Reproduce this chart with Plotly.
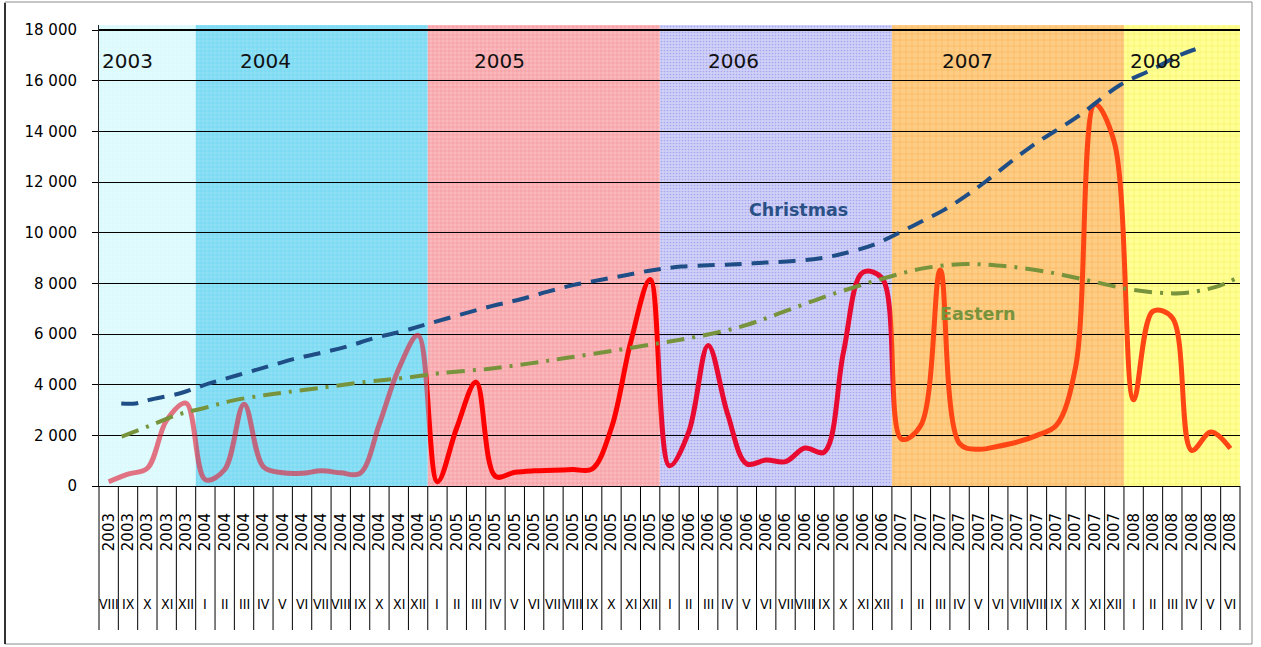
import plotly.graph_objects as go

# ---------------------------------------------------------------- data
month_year = [
    "2003", "2003", "2003", "2003", "2003",
    "2004", "2004", "2004", "2004", "2004", "2004", "2004", "2004", "2004", "2004", "2004", "2004",
    "2005", "2005", "2005", "2005", "2005", "2005", "2005", "2005", "2005", "2005", "2005", "2005",
    "2006", "2006", "2006", "2006", "2006", "2006", "2006", "2006", "2006", "2006", "2006", "2006",
    "2007", "2007", "2007", "2007", "2007", "2007", "2007", "2007", "2007", "2007", "2007", "2007",
    "2008", "2008", "2008", "2008", "2008", "2008",
]
month_roman = [
    "VIII", "IX", "X", "XI", "XII",
    "I", "II", "III", "IV", "V", "VI", "VII", "VIII", "IX", "X", "XI", "XII",
    "I", "II", "III", "IV", "V", "VI", "VII", "VIII", "IX", "X", "XI", "XII",
    "I", "II", "III", "IV", "V", "VI", "VII", "VIII", "IX", "X", "XI", "XII",
    "I", "II", "III", "IV", "V", "VI", "VII", "VIII", "IX", "X", "XI", "XII",
    "I", "II", "III", "IV", "V", "VI",
]
sales = [
    170, 470, 700, 2600, 3270,
    250, 650, 3230, 760, 520, 500, 600, 520, 500, 2450, 4630, 5950,
    170, 2300, 4100, 380, 540, 600, 620, 650, 670, 2300, 5700, 8150,
    800, 2150, 5550, 2850, 870, 1030, 960, 1500, 1340, 5300, 8430, 8200,
    1850, 2400, 8530, 1670, 1450, 1570, 1740, 2000, 2390, 4700, 15070, 13570,
    3400, 6900, 6640, 1410, 2130, 1480,
]

# trend curves (position on the month axis, value)
christmas_pos = [0.65, 1.4, 2.1, 3.7, 5.2, 6.7, 8.2, 9.5, 10.9, 12.3, 13.7, 15.1, 16.6,
                 19.8, 21.3, 22.7, 24.0, 25.4, 26.8, 28.2, 29.6, 31.3, 32.7, 34.0, 35.4,
                 36.8, 38.0, 39.5, 40.8, 42.0, 43.2, 44.4, 45.4, 47.7, 50.1, 52.3, 53.9,
                 55.4, 56.2]
christmas_val = [3260, 3260, 3400, 3660, 4050, 4380, 4710, 5000, 5240, 5500, 5830, 6090, 6420,
                 7100, 7370, 7670, 7930, 8130, 8330, 8530, 8660, 8720, 8760, 8820, 8880,
                 8990, 9180, 9510, 9970, 10430, 10900, 11490, 12050, 13400, 14580, 15830, 16420,
                 17010, 17240]
eastern_pos = [0.67, 2.1, 3.5, 4.9, 6.4, 8.5, 10.8, 13.4, 15.1, 17.1, 19.6, 21.8, 23.7,
               26.1, 28.4, 30.4, 32.7, 34.7, 36.8, 38.9, 40.1, 42.1, 44.4, 46.6, 48.9,
               50.9, 53.0, 55.4, 57.3, 58.45]
eastern_val = [1950, 2370, 2800, 3070, 3370, 3630, 3860, 4120, 4250, 4450, 4620, 4840, 5060,
               5340, 5630, 5890, 6290, 6820, 7410, 7930, 8200, 8590, 8760, 8660, 8400,
               8070, 7740, 7610, 7870, 8260]

seasons = ["2003", "2004", "2005", "2006", "2007", "2008"]
season_len = [5, 12, 12, 12, 12, 6]

y_ticks = [0, 2000, 4000, 6000, 8000, 10000, 12000, 14000, 16000, 18000]
y_tick_text = ["0", "2 000", "4 000", "6 000", "8 000", "10 000", "12 000", "14 000", "16 000", "18 000"]

# ---------------------------------------------------------------- styling
season_fill = ["#e2fcfd", "#8fe0f5", "#f9b9bd", "#d0d0f7", "#fdcd86", "#ffff96"]
season_grain = ["#c0f0f6", "#3fcbee", "#f0656c", "#7c7ce6", "#f8a53c", "#f5e84a"]
season_grain_shape = ["+", "+", "+", ".", "+", "+"]
season_grain_size = [4, 4, 4, 3, 6, 6]
season_title_x = [-0.47, 6.69, 18.8, 30.9, 43.0, 52.69]

# red curve colour by group of seasons
line_groups = [([0, 1], "rgba(226,30,55,0.62)"),
               ([2], "#ff0000"),
               ([3], "#e80a30"),
               ([4, 5], "#ff4514")]

CHRISTMAS_BLUE = "#1f4e86"
EASTERN_GREEN = "#77933c"

W, H = 1261, 647
M_L, M_R, M_T, M_B = 99, 21, 25, 161
plot_h = H - M_T - M_B
y_top = 18000 * plot_h / (plot_h - 5)

n = len(sales)
months = list(range(n))
x_range = [-0.5, n - 0.5]

season_start = []
acc = 0
for L in season_len:
    season_start.append(acc)
    acc += L

fig = go.Figure()

# season background grain (transparent bars carrying a pattern)
fig.add_trace(go.Bar(
    x=[s + L / 2 - 0.5 for s, L in zip(season_start, season_len)],
    y=[y_top] * len(seasons),
    width=season_len,
    marker=dict(color="rgba(0,0,0,0)", line=dict(width=0),
                pattern=dict(shape=season_grain_shape, fgcolor=season_grain,
                             size=season_grain_size, solidity=0.25, fillmode="overlay")),
    xaxis="x", yaxis="y", hoverinfo="skip", showlegend=False,
))

# red curve, split into colour groups, each drawn in its own clipped strip
layout_axes = {}
for k, (grp, col) in enumerate(line_groups):
    first = season_start[grp[0]]
    last = season_start[grp[-1]] + season_len[grp[-1]]
    ax_id = k + 3
    layout_axes[f"xaxis{ax_id}"] = dict(
        domain=[first / n, last / n], range=[first - 0.5, last - 0.5],
        anchor="y", visible=False, showgrid=False, zeroline=False,
    )
    fig.add_trace(go.Scatter(
        x=months, y=sales, mode="lines",
        line=dict(color=col, width=5, shape="spline", smoothing=1.0),
        xaxis=f"x{ax_id}", yaxis="y", hoverinfo="skip", showlegend=False,
    ))

# trend curves on top
fig.add_trace(go.Scatter(
    x=christmas_pos, y=christmas_val, mode="lines",
    line=dict(color=CHRISTMAS_BLUE, width=4, dash="17px,10px", shape="spline", smoothing=1.0),
    xaxis="x7", yaxis="y2", hoverinfo="skip", showlegend=False,
))
fig.add_trace(go.Scatter(
    x=eastern_pos, y=eastern_val, mode="lines",
    line=dict(color=EASTERN_GREEN, width=4, dash="18px,8px,3px,8px", shape="spline", smoothing=1.0),
    xaxis="x7", yaxis="y2", hoverinfo="skip", showlegend=False,
))


def px_x(p):
    return (p - M_L) / (W - M_L - M_R)


def px_y(p):
    return (H - M_B - p) / plot_h


shapes = []
for s, L, col in zip(season_start, season_len, season_fill):
    shapes.append(dict(type="rect", xref="x", yref="y", x0=s - 0.5, x1=s + L - 0.5,
                       y0=0, y1=y_top, fillcolor=col, line=dict(width=0), layer="below"))
# heavier top rule
shapes.append(dict(type="line", xref="x", yref="y", x0=x_range[0], x1=x_range[1],
                   y0=18000, y1=18000, line=dict(color="#000", width=2)))

# column rules of the month table under the axis
for b in range(n + 1):
    xb = b / n
    shapes.append(dict(type="line", xref="paper", yref="paper", x0=xb, x1=xb,
                       y0=0, y1=px_y(630), line=dict(color="#000", width=1)))

# outer frame
shapes.append(dict(type="rect", xref="paper", yref="paper",
                   x0=px_x(5), x1=px_x(1252), y0=px_y(644), y1=px_y(2),
                   line=dict(color="#8c8c8c", width=1), fillcolor="rgba(0,0,0,0)"))
shapes.append(dict(type="line", xref="paper", yref="paper",
                   x0=px_x(5), x1=px_x(5), y0=px_y(644), y1=px_y(3),
                   line=dict(color="#000", width=1.5)))

annotations = []
for lab, xpos in zip(seasons, season_title_x):
    annotations.append(dict(x=xpos, y=16780, xref="x", yref="y", text=lab, showarrow=False,
                            xanchor="left", yanchor="middle",
                            font=dict(family="DejaVu Sans", size=20, color="#111")))
for i, r in enumerate(month_roman):
    annotations.append(dict(x=(i + 0.5) / n, y=px_y(604), xref="paper", yref="paper", text=r,
                            showarrow=False, xanchor="center", yanchor="middle",
                            font=dict(family="DejaVu Sans Condensed", size=14, color="#000")))
annotations.append(dict(x=35.69, y=10900, xref="x", yref="y", text="<b>Christmas</b>",
                        showarrow=False, font=dict(family="DejaVu Sans", size=17.5,
                                                   color="#2a5186")))
annotations.append(dict(x=44.97, y=6790, xref="x", yref="y", text="<b>Eastern</b>",
                        showarrow=False, font=dict(family="DejaVu Sans", size=17.5,
                                                   color=EASTERN_GREEN)))

fig.update_layout(
    width=W, height=H,
    margin=dict(l=M_L, r=M_R, t=M_T, b=M_B),
    paper_bgcolor="white", plot_bgcolor="rgba(0,0,0,0)",
    bargap=0, barmode="overlay",
    xaxis=dict(domain=[0, 1], range=x_range, anchor="y",
               tickmode="array", tickvals=months, ticktext=month_year, tickangle=-90,
               ticks="", ticklabelstandoff=20,
               tickfont=dict(family="DejaVu Sans", size=15, color="#000"),
               showline=True, linecolor="#000", linewidth=1,
               showgrid=False, zeroline=False),
    xaxis7=dict(domain=[0, 1], range=x_range, anchor="y2", visible=False,
                showgrid=False, zeroline=False),
    yaxis=dict(domain=[0, 1], range=[0, y_top], anchor="x",
               tickmode="array", tickvals=y_ticks, ticktext=y_tick_text,
               ticks="outside", ticklen=6, tickcolor="#000",
               showline=True, linecolor="#222", linewidth=1,
               showgrid=True, gridcolor="#000", gridwidth=1, zeroline=False,
               ticklabelstandoff=12,
               tickfont=dict(family="DejaVu Sans", size=15, color="#000")),
    yaxis2=dict(domain=[0, 1], range=[0, y_top], anchor="x7", visible=False,
                showgrid=False, zeroline=False),
    shapes=shapes,
    annotations=annotations,
    showlegend=False,
)
fig.update_layout(**layout_axes)

fig.write_html("out.html")
